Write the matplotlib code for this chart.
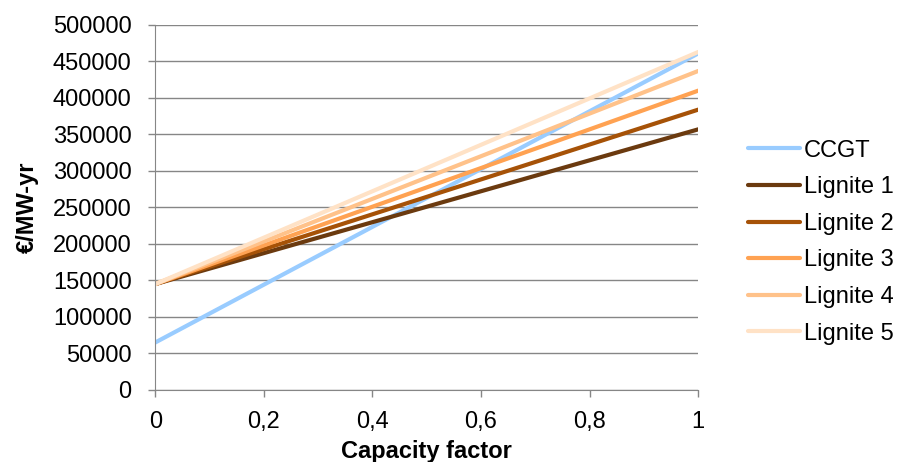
import matplotlib
matplotlib.use("Agg")
import matplotlib.pyplot as plt
import numpy as np

plt.rcParams['font.family'] = ['Liberation Sans', 'DejaVu Sans']

# capacity factor endpoints and cost at those points (EUR/MW-yr)
cap_factor = [0, 1]
series_names = ['CCGT', 'Lignite 1', 'Lignite 2', 'Lignite 3', 'Lignite 4', 'Lignite 5']
ccgt = [65000, 461000]
lignite1 = [145000, 357000]
lignite2 = [145000, 384000]
lignite3 = [145000, 410000]
lignite4 = [145000, 437000]
lignite5 = [145000, 463000]
colors = ['#99CCFF', '#6B3A0F', '#A65207', '#FFA252', '#FFC28A', '#FFE2C6']

x_ticks = [0, 0.2, 0.4, 0.6, 0.8, 1]
x_tick_labels = ['0', '0,2', '0,4', '0,6', '0,8', '1']
y_ticks = list(range(0, 500001, 50000))

fig = plt.figure(figsize=(9.08, 4.62), dpi=100)
ax = fig.add_axes([0.171, 0.156, 0.598, 0.790])

for name, vals, c in zip(series_names, [ccgt, lignite1, lignite2, lignite3, lignite4, lignite5], colors):
    ax.plot(cap_factor, vals, color=c, lw=3, label=name, solid_capstyle='round')

ax.set_xlim(0, 1)
ax.set_ylim(0, 500000)
ax.set_xticks(x_ticks)
ax.set_xticklabels(x_tick_labels)
ax.set_yticks(y_ticks)
ax.set_yticklabels([str(v) for v in y_ticks])
ax.tick_params(labelsize=17, color='#868686', length=5, width=1)
ax.tick_params(axis='y', pad=12)
ax.tick_params(axis='x', pad=10)
ax.grid(axis='y', color='#868686', lw=1)
ax.set_axisbelow(True)
for s in ['top', 'right']:
    ax.spines[s].set_visible(False)
for s in ['left', 'bottom']:
    ax.spines[s].set_color('#868686')

ax.set_xlabel('Capacity factor', fontsize=17, fontweight='bold', labelpad=5)
ax.set_ylabel('€/MW-yr', fontsize=17, fontweight='bold', labelpad=10)

leg = ax.legend(loc='center left', bbox_to_anchor=(1.075, 0.405), frameon=False,
                fontsize=17, handlelength=2.2, handletextpad=0.15, labelspacing=0.62,
                borderaxespad=0)

fig.savefig('out.png', dpi=100)
